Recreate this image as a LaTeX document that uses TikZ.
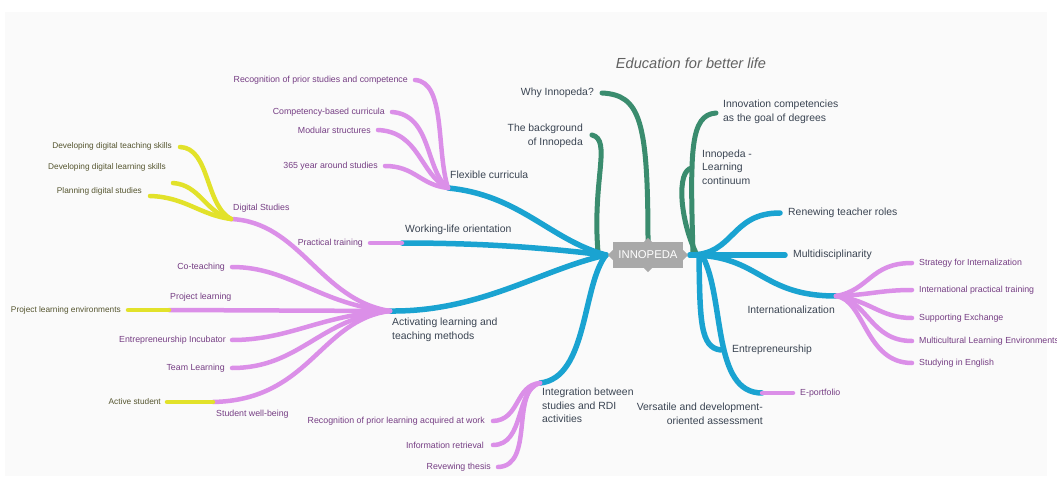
\documentclass[tikz,border=0pt]{standalone}
\usepackage{fontspec}
\setmainfont{Liberation Sans}
\definecolor{blueB}{HTML}{1AA3D1}
\definecolor{greenB}{HTML}{3A8C6E}
\definecolor{pinkB}{HTML}{DB8FE8}
\definecolor{yellowB}{HTML}{E2E22A}
\definecolor{boxgray}{HTML}{A9A9A9}
\definecolor{maintext}{HTML}{3A4452}
\definecolor{subtext}{HTML}{763E84}
\definecolor{yelltext}{HTML}{55552F}
\definecolor{panel}{HTML}{FAFAFA}
\begin{document}
\begin{tikzpicture}[x=1pt,y=-1pt,
  bluebr/.style={draw=blueB,line width=5.5pt,line cap=round},
  greenbr/.style={draw=greenB,line width=5pt,line cap=round},
  pinkbr/.style={draw=pinkB,line width=4.5pt,line cap=round},
  yellowbr/.style={draw=yellowB,line width=4.5pt,line cap=round},
  mainlbl/.style={font=\fontsize{10.4}{13.6}\selectfont,text=maintext,inner sep=0pt},
  sublbl/.style={font=\fontsize{8.8}{10}\selectfont,text=subtext,inner sep=0pt},
  yelllbl/.style={font=\fontsize{8.3}{10}\selectfont,text=yelltext,inner sep=0pt}]
\useasboundingbox (0,0) rectangle (1057,481);
\fill[white] (0,0) rectangle (1057,481);
\fill[panel] (5,12) rectangle (1047,476);

% ---- coordinates (branch ends) ----
\coordinate (cL) at (606,255);
\coordinate (cR) at (690,255);
\coordinate (cT) at (648,242);
\coordinate (cBg) at (598,252);
\coordinate (cRg) at (693,253);
\coordinate (cRg2) at (696,253);
\coordinate (cRd) at (699,257);
\coordinate (cRd2) at (703,257);
\coordinate (flex) at (448,188);
\coordinate (work) at (402,243);
\coordinate (act) at (390,311);
\coordinate (integ) at (540,383);
\coordinate (why) at (602,93);
\coordinate (bg) at (592,135);
\coordinate (innov) at (716,113);
\coordinate (cont) at (692,168);
\coordinate (renew) at (780,213);
\coordinate (multi) at (785,255);
\coordinate (intl) at (836,296);
\coordinate (entre) at (721,350);
\coordinate (vers) at (762,393);
% purple ends
\coordinate (recog) at (415,80);
\coordinate (compb) at (392,112);
\coordinate (modul) at (378,130);
\coordinate (y365) at (385,166);
\coordinate (pract) at (370,243);
\coordinate (digi) at (231,219);
\coordinate (cotea) at (232,267);
\coordinate (projl) at (169,310);
\coordinate (einc) at (232,340);
\coordinate (team) at (232,368);
\coordinate (swell) at (213,402);
\coordinate (rpl) at (493,421);
\coordinate (info) at (493,445);
\coordinate (thes) at (498,467);
\coordinate (strat) at (912,263);
\coordinate (ipt) at (912,290);
\coordinate (supp) at (912,318);
\coordinate (mle) at (912,341);
\coordinate (sie) at (912,363);
\coordinate (eport) at (793,393);
% yellow ends
\coordinate (dts) at (180,147);
\coordinate (dls) at (173,183);
\coordinate (pds) at (150,196);
\coordinate (ple) at (128,310);
\coordinate (acts) at (167,402);

% ---- green branches ----
\draw[greenbr] (cT) .. controls (648,120) and (640,95) .. (why);
\draw[greenbr] (cBg) .. controls (592,180) and (612,140) .. (bg);
\draw[greenbr] (cRg) .. controls (690,150) and (690,115) .. (innov);
\draw[greenbr] (cRg2) .. controls (680,220) and (676,170) .. (cont);

% ---- blue branches ----
\draw[bluebr] (cL) .. controls (550,240) and (520,195) .. (flex);
\draw[bluebr] (cL) .. controls (560,250) and (500,243) .. (work);
\draw[bluebr] (cL) .. controls (540,270) and (480,312) .. (act);
\draw[bluebr] (cL) .. controls (582,285) and (588,378) .. (integ);
\draw[bluebr] (cR) .. controls (735,255) and (730,213) .. (renew);
\draw[bluebr] (cR) -- (multi);
\draw[bluebr] (cR) .. controls (760,255) and (760,296) .. (intl);
\draw[bluebr] (cRd) .. controls (700,320) and (700,348) .. (entre);
\draw[bluebr] (cRd2) .. controls (725,300) and (712,393) .. (vers);

% ---- pink branches ----
\draw[pinkbr] (flex) .. controls (436,150) and (446,82) .. (recog);
\draw[pinkbr] (flex) .. controls (425,170) and (432,115) .. (compb);
\draw[pinkbr] (flex) .. controls (420,175) and (420,132) .. (modul);
\draw[pinkbr] (flex) .. controls (420,185) and (415,166) .. (y365);
\draw[pinkbr] (work) -- (pract);
\draw[pinkbr] (act) .. controls (320,300) and (300,222) .. (digi);
\draw[pinkbr] (act) .. controls (320,305) and (290,267) .. (cotea);
\draw[pinkbr] (act) -- (projl);
\draw[pinkbr] (act) .. controls (320,315) and (290,340) .. (einc);
\draw[pinkbr] (act) .. controls (320,318) and (300,368) .. (team);
\draw[pinkbr] (act) .. controls (320,320) and (310,400) .. (swell);
\draw[pinkbr] (integ) .. controls (515,385) and (520,420) .. (rpl);
\draw[pinkbr] (integ) .. controls (515,390) and (525,445) .. (info);
\draw[pinkbr] (integ) .. controls (510,390) and (535,466) .. (thes);
\draw[pinkbr] (intl) .. controls (870,290) and (870,263) .. (strat);
\draw[pinkbr] (intl) .. controls (870,295) and (880,290) .. (ipt);
\draw[pinkbr] (intl) .. controls (870,300) and (880,318) .. (supp);
\draw[pinkbr] (intl) .. controls (868,300) and (870,341) .. (mle);
\draw[pinkbr] (intl) .. controls (865,300) and (865,363) .. (sie);
\draw[pinkbr] (vers) -- (eport);

% ---- yellow branches ----
\draw[yellowbr] (digi) .. controls (205,205) and (210,148) .. (dts);
\draw[yellowbr] (digi) .. controls (205,212) and (200,185) .. (dls);
\draw[yellowbr] (digi) .. controls (200,215) and (185,197) .. (pds);
\draw[yellowbr] (projl) -- (ple);
\draw[yellowbr] (swell) -- (acts);

% ---- central node ----
\node[fill=boxgray,minimum width=70pt,minimum height=26pt,inner sep=0pt,
  text=white,font=\fontsize{11.3}{13}\selectfont] (root) at (648,255) {INNOPEDA};
\fill[boxgray] (root.north) ++(-4,0) -- ++(4,-4) -- ++(4,4) -- cycle;
\fill[boxgray] (root.south) ++(-4,0) -- ++(4,4) -- ++(4,-4) -- cycle;
\fill[boxgray] (root.west) ++(0,-5) -- ++(-5,5) -- ++(5,5) -- cycle;
\fill[boxgray] (root.east) ++(0,-5) -- ++(5,5) -- ++(-5,5) -- cycle;

% ---- title ----
\node[font=\fontsize{14.6}{16}\selectfont\itshape,text=black!62,inner sep=0pt] (title) at (691,63) {Education for better life};

% ---- main labels ----
\node[mainlbl,anchor=west] (lflex) at (450,175) {Flexible curricula};
\node[mainlbl,anchor=west] (lwork) at (405,230) {Working-life orientation};
\node[mainlbl,anchor=north west,align=left] (lact) at (392,318) {Activating learning and\\teaching methods};
\node[mainlbl,anchor=north west,align=left] (linteg) at (542,388) {Integration between\\studies and RDI\\activities};
\node[mainlbl,anchor=east] (lwhy) at (594,93) {Why Innopeda?};
\node[mainlbl,anchor=east,align=right] (lbg) at (583,136) {The background\\of Innopeda};
\node[mainlbl,anchor=west,align=left] (linnov) at (723,112) {Innovation competencies\\as the goal of degrees};
\node[mainlbl,anchor=west,align=left] (lcont) at (702,167) {Innopeda -\\Learning\\continuum};
\node[mainlbl,anchor=west] (lrenew) at (788,213) {Renewing teacher roles};
\node[mainlbl,anchor=west] (lmulti) at (793,255) {Multidisciplinarity};
\node[mainlbl,anchor=east] (lintl) at (835,310) {Internationalization};
\node[mainlbl,anchor=west] (lentre) at (732,350) {Entrepreneurship};
\node[mainlbl,anchor=east,align=right] (lvers) at (763,414) {Versatile and development-\\oriented assessment};

% ---- sub labels ----
\node[sublbl,anchor=east] (lrecog) at (408,80) {Recognition of prior studies and competence};
\node[sublbl,anchor=east] (lcompb) at (385,112) {Competency-based curricula};
\node[sublbl,anchor=east] (lmodul) at (371,130) {Modular structures};
\node[sublbl,anchor=east] (ly365) at (378,166) {365 year around studies};
\node[sublbl,anchor=east] (lpract) at (363,243) {Practical training};
\node[sublbl,anchor=west] (ldigi) at (233,208) {Digital Studies};
\node[sublbl,anchor=east] (lcotea) at (225,267) {Co-teaching};
\node[sublbl,anchor=west] (lprojl) at (170,297) {Project learning};
\node[sublbl,anchor=east] (leinc) at (226,340) {Entrepreneurship Incubator};
\node[sublbl,anchor=east] (lteam) at (225,368) {Team Learning};
\node[sublbl,anchor=west] (lswell) at (216,414) {Student well-being};
\node[sublbl,anchor=east] (lrpl) at (485,421) {Recognition of prior learning acquired at work};
\node[sublbl,anchor=east] (linfo) at (484,445) {Information retrieval};
\node[sublbl,anchor=east] (lthes) at (491,467) {Revewing thesis};
\node[sublbl,anchor=west] (lstrat) at (919,263) {Strategy for Internalization};
\node[sublbl,anchor=west] (lipt) at (919,290) {International practical training};
\node[sublbl,anchor=west] (lsupp) at (919,318) {Supporting Exchange};
\node[sublbl,anchor=west] (lmle) at (919,341) {Multicultural Learning Environments};
\node[sublbl,anchor=west] (lsie) at (919,363) {Studying in English};
\node[sublbl,anchor=west] (leport) at (800,393) {E-portfolio};

% ---- yellow labels ----
\node[yelllbl,anchor=east] (ldts) at (172,146) {Developing digital teaching skills};
\node[yelllbl,anchor=east] (ldls) at (166,167) {Developing digital learning skills};
\node[yelllbl,anchor=east] (lpds) at (142,191) {Planning digital studies};
\node[yelllbl,anchor=east] (lple) at (121,310) {Project learning environments};
\node[yelllbl,anchor=east] (lacts) at (161,402) {Active student};
\end{tikzpicture}
\end{document}
